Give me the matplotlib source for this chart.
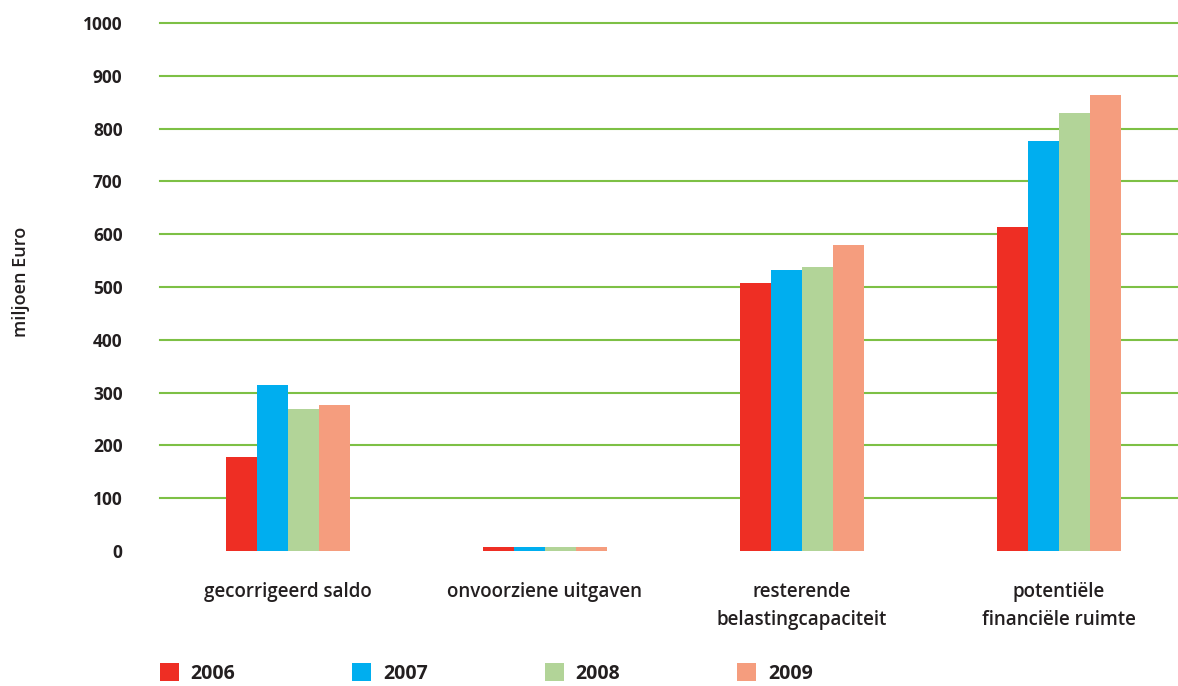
import matplotlib
matplotlib.use('Agg')
import matplotlib.pyplot as plt
import numpy as np

plt.rcParams['font.family'] = ['Open Sans', 'DejaVu Sans']

categories = ['gecorrigeerd saldo', 'onvoorziene uitgaven',
              'resterende\nbelastingcapaciteit', 'potentiële\nfinanciële ruimte']
years = ['2006', '2007', '2008', '2009']
v2006 = [178, 7, 507, 613]
v2007 = [315, 7, 533, 776]
v2008 = [269, 7, 537, 829]
v2009 = [277, 7, 579, 863]
series = [v2006, v2007, v2008, v2009]
colors = ['#EE2E24', '#00AEEF', '#B2D498', '#F59D7E']
yticks = [0, 100, 200, 300, 400, 500, 600, 700, 800, 900, 1000]

fig = plt.figure(figsize=(11.78, 6.86), dpi=100)
ax = fig.add_axes([160 / 1178, 1 - 551 / 686, 1 - 160 / 1178, (551 - 23) / 686])

x = np.arange(len(categories))
w = 0.12
for i, (vals, c, yr) in enumerate(zip(series, colors, years)):
    ax.bar(x + (i - 1.5) * w, vals, width=w, color=c, label=yr, zorder=3, linewidth=0)

ax.set_ylim(0, 1000)
ax.set_xlim(-0.498, 3.463)
ax.set_yticks(yticks)
ax.set_yticklabels([str(t) for t in yticks], fontsize=12.5, fontweight='bold', color='#231F20')
for t in yticks[1:]:
    ax.axhline(t, color='#7DC045', linewidth=1.5, zorder=1, clip_on=False)

ax.set_xticks(x)
ax.set_xticklabels(categories, fontsize=13.5, fontweight='semibold', color='#231F20',
                   linespacing=1.55, verticalalignment='top')
ax.tick_params(axis='both', length=0)
ax.tick_params(axis='y', pad=27)
ax.tick_params(axis='x', pad=22)
for s in ax.spines.values():
    s.set_visible(False)

fig.text(21 / 1178, 1 - 282 / 686, 'miljoen Euro', rotation=90, fontsize=13,
         fontweight='semibold', color='#231F20', ha='center', va='center')

leg = fig.legend(loc='lower left', bbox_to_anchor=(142 / 1178, -0.022), ncol=4,
                 frameon=False, fontsize=14, handlelength=1.0, handleheight=1.0,
                 handletextpad=0.6, columnspacing=6.0)
for t in leg.get_texts():
    t.set_fontweight('bold')
    t.set_color('#231F20')

fig.savefig('out.png', dpi=100)
